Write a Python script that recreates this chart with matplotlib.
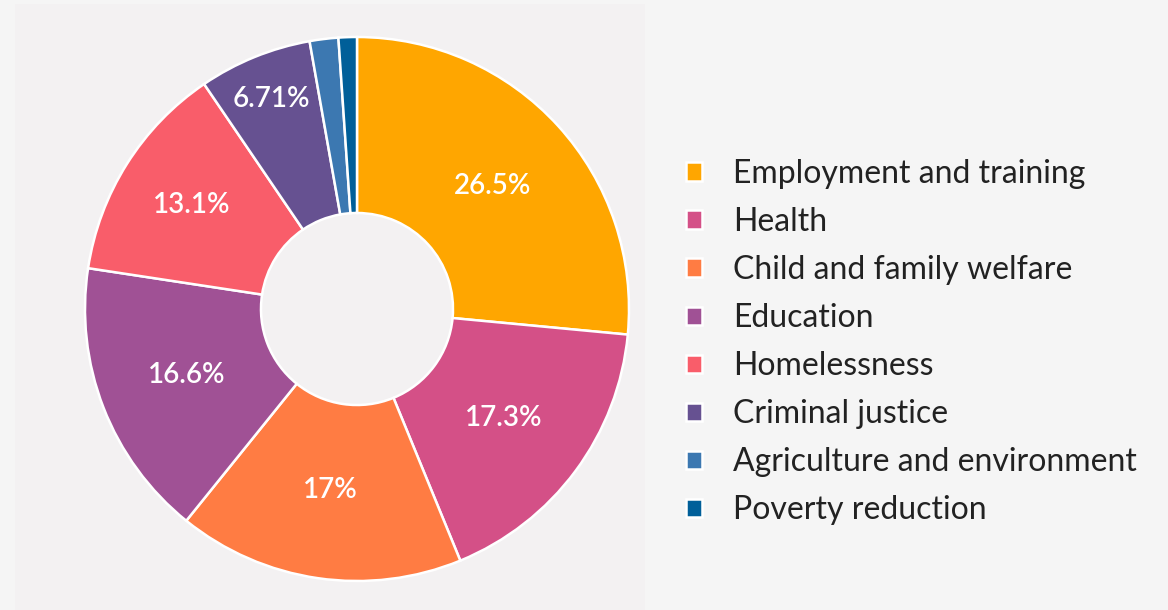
import matplotlib
matplotlib.use("Agg")
import numpy as np
import matplotlib.pyplot as plt
from matplotlib.patches import Rectangle

plt.rcParams['font.family'] = ['Lato', 'DejaVu Sans']

categories = ["Employment and training", "Health", "Child and family welfare",
              "Education", "Homelessness", "Criminal justice",
              "Agriculture and environment", "Poverty reduction"]
shares = [26.5, 17.3, 17.0, 16.6, 13.1, 6.71, 1.7, 1.09]
colors = ["#FFA600", "#D45087", "#FF7C43", "#A05195",
          "#F95D6A", "#665191", "#3C78B1", "#005F99"]
# radial placement of the percentage labels (fraction of radius)
label_dist = [0.673, 0.673, 0.673, 0.673, 0.72, 0.835, 0.7, 0.7]

W, H = 1168, 610
fig = plt.figure(figsize=(W / 100, H / 100), dpi=100, facecolor="#f5f5f5")

# slightly tinted panel behind the donut
fig.patches.append(Rectangle((15 / W, 0), 630 / W, 606 / H, transform=fig.transFigure,
                             facecolor="#f3f1f2", edgecolor="none", zorder=-10))

cx, cy, r = 357, H - 309, 272
ax = fig.add_axes([(cx - r) / W, (cy - r) / H, 2 * r / W, 2 * r / H])
ax.set_facecolor("none")


def fmt_pct(p):
    return "%.3g%%" % p if p > 5 else ""


wedges, texts, autotexts = ax.pie(
    shares, colors=colors, startangle=90, counterclock=False, radius=1,
    autopct=fmt_pct, pctdistance=0.673,
    wedgeprops=dict(width=0.647, edgecolor="white", linewidth=1.8),
    textprops=dict(color="white", fontsize=20, fontweight="semibold"))

for w, t, d in zip(wedges, autotexts, label_dist):
    mid = np.deg2rad((w.theta1 + w.theta2) / 2)
    t.set_position((d * np.cos(mid), d * np.sin(mid)))

ax.set_xlim(-1, 1)
ax.set_ylim(-1, 1)
ax.axis("off")

fig.legend(wedges, categories, loc="center left",
           bbox_to_anchor=(686 / W, (H - 342) / H),
           frameon=False, fontsize=23, handlelength=0.5, handleheight=0.5,
           handletextpad=0.97, labelspacing=0.565, borderpad=0, borderaxespad=0,
           labelcolor="#222222")

fig.savefig("out.png", dpi=100, facecolor=fig.get_facecolor())
